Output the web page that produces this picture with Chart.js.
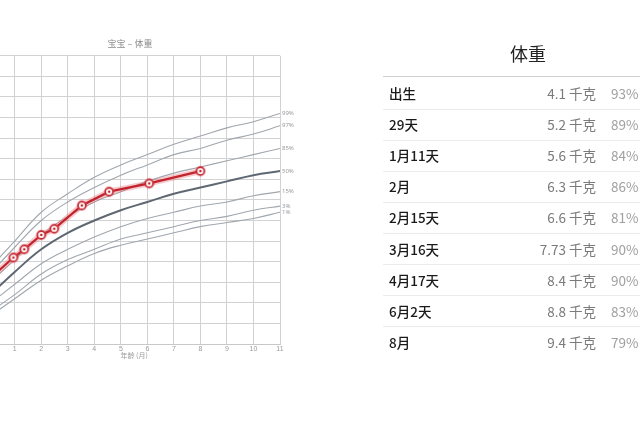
<!DOCTYPE html>
<html><head><meta charset="utf-8">
<script src="https://cdn.jsdelivr.net/npm/chart.js@4.4.1/dist/chart.umd.min.js"></script>
<style>
html,body{margin:0;padding:0;background:#fff;width:640px;height:427px;overflow:hidden;position:relative;font-family:"Noto Sans CJK SC","Noto Sans",sans-serif;}
#wrap{position:absolute;left:-20px;top:0;width:314px;height:360px;}
#tbl{position:absolute;left:0;top:0;width:640px;height:427px;pointer-events:none;}
.ttl{position:absolute;left:383px;width:290px;text-align:center;top:40px;font-size:18px;color:#222;line-height:26px;}
.hline{position:absolute;left:383px;width:257px;height:1px;}
.lbl{position:absolute;left:389px;font-size:13.5px;color:#1a1a1a;font-weight:500;line-height:20px;}
.val{position:absolute;right:44px;font-size:13.5px;color:#7a7a7a;line-height:20px;text-align:right;}
.pct{position:absolute;left:611px;font-size:13.5px;color:#a0a0a0;line-height:20px;}
</style></head>
<body>
<div id="wrap"><canvas id="c" width="314" height="360"></canvas></div>
<div id="tbl"></div>
<script>
// ---- data ----
const monthTicks = [0,1,2,3,4,5,6,7,8,9,10,11];
const p99 = [4.6,6.0,7.4,8.3,9.1,9.7,10.2,10.7,11.1,11.5,11.8,12.2];
const p97 = [4.3,5.7,7.0,7.9,8.6,9.2,9.7,10.2,10.5,10.9,11.2,11.6];
const p85 = [3.9,5.1,6.3,7.2,7.9,8.4,8.9,9.3,9.6,9.9,10.2,10.5];
const p50 = [3.3,4.5,5.6,6.4,7.0,7.5,7.9,8.3,8.6,8.9,9.2,9.4];
const p15 = [2.9,3.9,4.9,5.6,6.2,6.7,7.1,7.4,7.7,7.9,8.2,8.4];
const p3  = [2.5,3.4,4.4,5.1,5.6,6.1,6.4,6.7,7.0,7.2,7.5,7.7];
const p1  = [2.3,3.2,4.1,4.8,5.4,5.8,6.1,6.4,6.7,6.9,7.1,7.4];
const percentileNames = ['99%','97%','85%','50%','15%','3%','1%'];
const visitLabels = ['出生','29天','1月11天','2月','2月15天','3月16天','4月17天','6月2天','8月'];
const visitAges = [0,0.95,1.36,2,2.49,3.53,4.56,6.07,8];
const visitWeights = [4.1,5.2,5.6,6.3,6.6,7.73,8.4,8.8,9.4];
const visitPercents = [93,89,84,86,81,90,90,83,79];

const RED = '#c3232c';
const pts = (ys)=>monthTicks.map((m,i)=>({x:m,y:ys[i]}));
const visitPts = visitAges.map((a,i)=>({x:a,y:visitWeights[i]}));

function makeDot(){
  const c=document.createElement('canvas'); c.width=12; c.height=12;
  const g=c.getContext('2d');
  g.beginPath(); g.arc(6,6,5.5,0,Math.PI*2); g.fillStyle='rgba(230,110,120,0.35)'; g.fill();
  g.beginPath(); g.arc(6,6,3.9,0,Math.PI*2); g.fillStyle='#fff'; g.fill();
  g.lineWidth=1.6; g.strokeStyle=RED; g.stroke();
  g.beginPath(); g.arc(6,6,1.3,0,Math.PI*2); g.fillStyle=RED; g.fill();
  return c;
}
const dot = makeDot();

const pctSets = [p99,p97,p85,p50,p15,p3,p1].map((arr,i)=>({
  data: pts(arr),
  pctLabel: percentileNames[i],
  borderColor: percentileNames[i]==='50%' ? '#5f6872' : '#a0a7ae',
  borderWidth: percentileNames[i]==='50%' ? 2 : 1.1,
  pointRadius: 0, fill:false, tension:0.4
}));

const labelPlugin = {
  id:'pctLabels',
  afterDatasetsDraw(chart){
    const ctx=chart.ctx; ctx.save();
    ctx.font='6px "Noto Sans", sans-serif'; ctx.fillStyle='#9a9a9a';
    ctx.textBaseline='middle'; ctx.textAlign='left';
    chart.data.datasets.forEach((ds,i)=>{
      if(!ds.pctLabel) return;
      const meta=chart.getDatasetMeta(i);
      const el=meta.data[meta.data.length-1];
      ctx.fillText(ds.pctLabel, el.x+2, el.y);
    });
    ctx.restore();
  }
};

new Chart(document.getElementById('c'),{
  type:'line',
  data:{datasets:[
    {data:visitPts, borderColor:RED, borderWidth:2.2, pointStyle:dot, pointRadius:6, tension:0, fill:false},
    {data:visitPts, borderColor:'rgba(228,100,110,0.35)', borderWidth:6, pointRadius:0, tension:0, fill:false},
    ...pctSets
  ]},
  options:{
    responsive:false, animation:false, devicePixelRatio:1,
    layout:{padding:{top:38,right:14,left:0,bottom:0}},
    plugins:{
      legend:{display:false}, tooltip:{enabled:false},
      title:{display:true,text:'宝宝 – 体重',color:'#8a8a8a',font:{size:9,family:'"Noto Sans CJK SC"',weight:'normal'},padding:{top:0,bottom:7}}
    },
    scales:{
      x:{type:'linear',min:0,max:11,
        ticks:{stepSize:1,color:'#9a9a9a',font:{size:7},padding:1,maxRotation:0,
          callback:(v)=>v===0?'':String(v)},
        grid:{color:'#d2d2d2',lineWidth:1,drawTicks:false},
        border:{color:'#c8c8c8'},
        title:{display:true,text:'年龄 (月)',color:'#9a9a9a',font:{size:7,family:'"Noto Sans CJK SC"'},padding:0},
        afterFit:(s)=>{s.height=16;}
      },
      y:{type:'linear',min:1,max:15,
        ticks:{display:false,stepSize:1},
        grid:{color:'#d2d2d2',lineWidth:1,drawTicks:false},
        border:{display:false},
        afterFit:(s)=>{s.width=0;}
      }
    }
  },
  plugins:[labelPlugin]
});

// ---- table ----
const tbl=document.getElementById('tbl');
let html='<div class="ttl">体重</div><div class="hline" style="top:76px;background:#cfcfcf"></div>';
visitLabels.forEach((lab,i)=>{
  const cy=93+i*31.1;
  html+=`<div class="lbl" style="top:${cy-10}px">${lab}</div>`;
  html+=`<div class="val" style="top:${cy-10}px">${visitWeights[i]} 千克</div>`;
  html+=`<div class="pct" style="top:${cy-10}px">${visitPercents[i]}%</div>`;
  if(i<visitLabels.length-1) html+=`<div class="hline" style="top:${Math.round(cy+15.5)}px;background:#ececec"></div>`;
});
tbl.innerHTML=html;
</script>
</body></html>
